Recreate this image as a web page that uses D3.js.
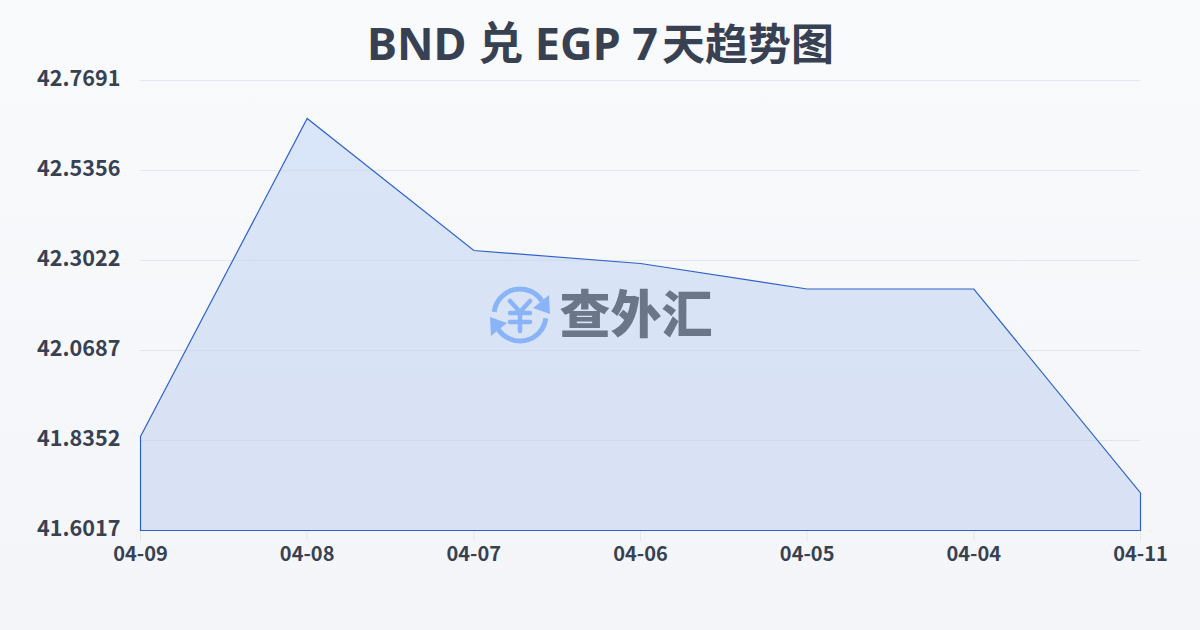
<!DOCTYPE html>
<html><head><meta charset="utf-8">
<script src="https://cdn.jsdelivr.net/npm/d3@7/dist/d3.min.js"></script>
<style>html,body{margin:0;padding:0;overflow:hidden}svg{display:block}
text{font-family:"Noto Sans CJK SC",sans-serif}</style></head>
<body><svg id="c" width="1200" height="630"></svg>
<script>
const titleLatin = "BND 兑 EGP 7";
const titleCjk = "天趋势图";
const categories = ["04-09","04-08","04-07","04-06","04-05","04-04","04-11"];
const values = [41.8456,42.6705,42.3281,42.2944,42.2282,42.2282,41.6991];
const yTicks = [41.6017,41.8352,42.0687,42.3022,42.5356,42.7691];
const brand = "查外汇";

const svg = d3.select("#c");
const defs = svg.append("defs");
const bg = defs.append("linearGradient").attr("id","bg").attr("x1",0).attr("y1",0).attr("x2",0).attr("y2",1);
bg.append("stop").attr("offset",0).attr("stop-color","#f9fafc");
bg.append("stop").attr("offset",1).attr("stop-color","#f3f5f8");
const ag = defs.append("linearGradient").attr("id","ag").attr("x1",0).attr("y1",0).attr("x2",0).attr("y2",1);
ag.append("stop").attr("offset",0).attr("stop-color","#d9e5f8");
ag.append("stop").attr("offset",1).attr("stop-color","#d9e1f4");
svg.append("rect").attr("width",1200).attr("height",630).attr("fill","url(#bg)");

const x = d3.scalePoint().domain(categories).range([140.5,1140.5]);
const y = d3.scaleLinear().domain([yTicks[0],yTicks[yTicks.length-1]]).range([530.5,80.5]);

const title = svg.append("text").attr("x",367).attr("y",60)
  .style("font-family",'"Noto Sans","Noto Sans CJK SC"')
  .attr("font-weight",700).attr("fill","#374151");
title.append("tspan").attr("font-size",45).text(titleLatin);
title.append("tspan").attr("font-size",43).attr("dx",4).text(titleCjk);

const area = d3.area().x((d,i)=>x(categories[i])).y0(y(yTicks[0])).y1(d=>y(d));
svg.append("path").datum(values).attr("d",area).attr("fill","url(#ag)");

svg.append("g").selectAll("line").data(yTicks).join("line")
  .attr("x1",140).attr("x2",1140).attr("y1",d=>y(d)).attr("y2",d=>y(d))
  .attr("stroke","#c8d2e0").attr("stroke-opacity",0.45).attr("stroke-width",1);

svg.append("path").datum(values).attr("d",area).attr("fill","none")
  .attr("stroke","#2f62c8").attr("stroke-width",1.2);

svg.append("g").selectAll("line").data(categories).join("line")
  .attr("x1",d=>x(d)).attr("x2",d=>x(d)).attr("y1",531).attr("y2",541)
  .attr("stroke","#e5e7eb").attr("stroke-width",1);

svg.append("g").selectAll("text").data(yTicks).join("text")
  .attr("x",120.5).attr("y",d=>y(d)+5.5).attr("text-anchor","end")
  .attr("font-size",21.6).attr("font-weight",700).attr("fill","#374151")
  .text(d=>d3.format(".4f")(d));

svg.append("g").selectAll("text").data(categories).join("text")
  .attr("x",d=>x(d)).attr("y",561).attr("text-anchor","middle")
  .attr("font-size",20).attr("font-weight",700).attr("fill","#374151").text(d=>d);

// watermark
const wm = svg.append("g");
const logo = wm.append("g").attr("transform","translate(520,315)")
  .attr("fill","none").attr("stroke","#8ab4f8").attr("stroke-linecap","round");
const arc = d3.arc().innerRadius(26).outerRadius(26);
logo.append("path").attr("d",arc({startAngle:-1.45,endAngle:1.0})).attr("stroke-width",5);
logo.append("path").attr("d",arc({startAngle:1.7,endAngle:4.15})).attr("stroke-width",5);
logo.append("path").attr("d","M29 -20 L30 -1 L13 -7 Z").attr("fill","#8ab4f8").attr("stroke","none");
logo.append("path").attr("d","M-29 21 L-30 2 L-13 8 Z").attr("fill","#8ab4f8").attr("stroke","none");
logo.append("path").attr("d","M-10 -14 L0 -3 L10 -14 M-10 -2 H10 M-10 7 H10 M0 -3 V16").attr("stroke-width",4.5);
wm.append("text").attr("x",636).attr("y",333).attr("text-anchor","middle")
  .attr("font-size",51).attr("font-weight",900).attr("fill","#6b7688").text(brand);
</script></body></html>
